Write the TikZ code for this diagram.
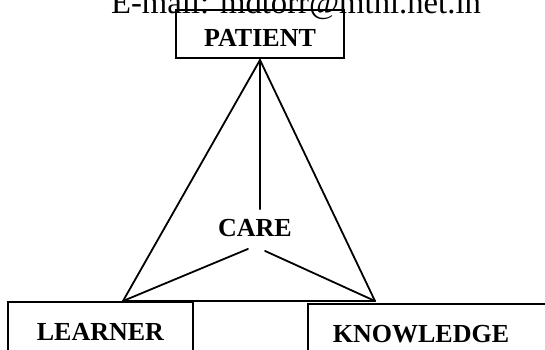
\documentclass[tikz,border=0pt]{standalone}
\usepackage{fontspec}
\setmainfont{Liberation Serif}
\usepackage{tikz}
\usetikzlibrary{positioning, calc}
\tikzstyle{role} = [rectangle, draw=black, line width=1.8pt, inner sep=0pt, font=\fontsize{26}{30}\selectfont\bfseries]
\tikzstyle{link} = [line width=1.8pt, line cap=round]

\begin{document}
\begin{tikzpicture}[x=1pt, y=-1pt]
    \useasboundingbox (0,0) rectangle (545,349);
    % Header
    \node (mail) [anchor=base, inner sep=0pt, font=\fontsize{32.7}{36}\selectfont] at (296,13) {E-mail: mdtorr@mtnl.net.in};

    % Top
    \node (patient) [role, minimum width=168pt, minimum height=48pt, text height=24pt, text depth=0pt] at (260,34) {PATIENT};

    % Bottom row
    \node (learner) [role, anchor=north west, minimum width=185pt, minimum height=60pt] at (7,301) {LEARNER};
    \node (knowledge) [role, anchor=north west, minimum width=253pt, minimum height=60pt, inner xsep=25pt, text width=203pt, align=left] at (307,303) {KNOWLEDGE};

    % Centre
    \node (care) [font=\fontsize{26}{30}\selectfont\bfseries, inner sep=0pt] at (255,228) {CARE};

    % Corners
    \coordinate (apex) at (260,60);
    \coordinate (left) at (123,301);
    \coordinate (right) at (375,301);

    % Lines
    \draw [link] (apex) -- (left);
    \draw [link] (apex) -- (right);
    \draw [link] (left) -- (right);
    \draw [link] (apex) -- ($(care.north)+(5,-10)$);
    \draw [link] ($(care.south)+(-7,12)$) -- (left);
    \draw [link] ($(care.south)+(10,14)$) -- (right);
\end{tikzpicture}
\end{document}
